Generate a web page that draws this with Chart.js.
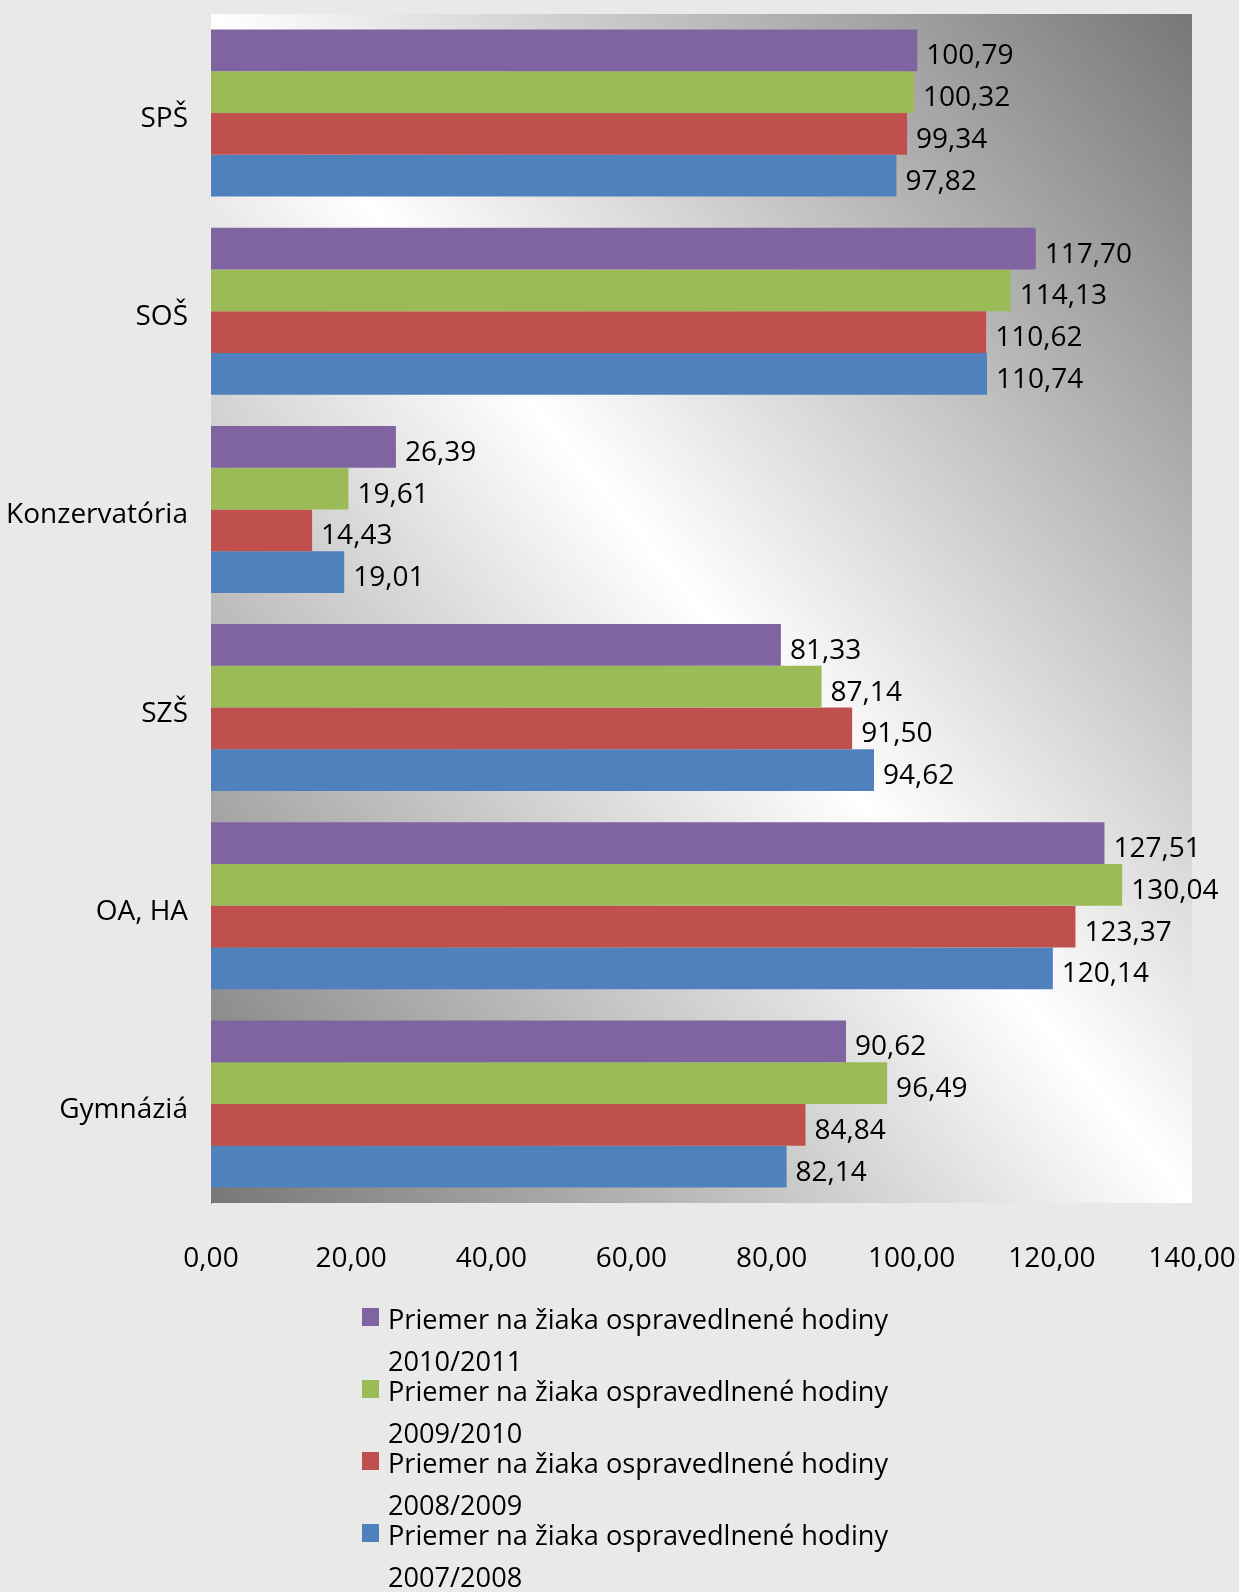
<!DOCTYPE html>
<html>
<head>
<meta charset="utf-8">
<script src="https://cdn.jsdelivr.net/npm/chart.js@4/dist/chart.umd.min.js"></script>
<style>
  html, body { margin: 0; padding: 0; background: #e9e9e7; }
  #wrap { width: 1239px; height: 1592px; position: relative; }
  canvas { display: block; }
</style>
</head>
<body>
<div id="wrap"><canvas id="c" width="1239" height="1592"></canvas></div>
<script>
// ---- data ----
const categories = ['SPŠ', 'SOŠ', 'Konzervatória', 'SZŠ', 'OA, HA', 'Gymnáziá'];
const seriesNames = [
  'Priemer na žiaka ospravedlnené hodiny 2010/2011',
  'Priemer na žiaka ospravedlnené hodiny 2009/2010',
  'Priemer na žiaka ospravedlnené hodiny 2008/2009',
  'Priemer na žiaka ospravedlnené hodiny 2007/2008'
];
const values2010 = [100.79, 117.70, 26.39, 81.33, 127.51, 90.62];
const values2009 = [100.32, 114.13, 19.61, 87.14, 130.04, 96.49];
const values2008 = [99.34, 110.62, 14.43, 91.50, 123.37, 84.84];
const values2007 = [97.82, 110.74, 19.01, 94.62, 120.14, 82.14];
const xTicks = [0, 20, 40, 60, 80, 100, 120, 140];

const colors = ['#8064A2', '#9BBB59', '#C0504D', '#4F81BD'];
const FONT = '"Open Sans", Lato, sans-serif';
const fmt = v => v.toFixed(2).replace('.', ',');

const plotBg = {
  id: 'plotBg',
  beforeDatasetsDraw(chart) {
    const { ctx, chartArea: a } = chart;
    ctx.save();
    ctx.translate(a.left, a.top);
    ctx.scale(a.right - a.left, a.bottom - a.top);
    const g = ctx.createLinearGradient(1, 0, 0, 1);
    g.addColorStop(0, '#777777');
    g.addColorStop(0.5, '#ffffff');
    g.addColorStop(1, '#777777');
    ctx.fillStyle = g;
    ctx.fillRect(0, 0, 1, 1);
    ctx.restore();
  }
};

const valueLabels = {
  id: 'valueLabels',
  afterDatasetsDraw(chart) {
    const ctx = chart.ctx;
    ctx.save();
    ctx.font = '28px ' + FONT;
    ctx.fillStyle = '#000';
    ctx.textAlign = 'left';
    ctx.textBaseline = 'middle';
    chart.data.datasets.forEach((ds, i) => {
      const meta = chart.getDatasetMeta(i);
      meta.data.forEach((bar, j) => {
        ctx.fillText(fmt(ds.data[j]), bar.x + 9, bar.y + 6);
      });
    });
    ctx.restore();
  }
};

const customLegend = {
  id: 'customLegend',
  afterDraw(chart) {
    const ctx = chart.ctx;
    ctx.save();
    ctx.font = '27px ' + FONT;
    ctx.textBaseline = 'alphabetic';
    chart.data.datasets.forEach((ds, i) => {
      const cy = 1317 + i * 72;
      ctx.fillStyle = ds.backgroundColor;
      ctx.fillRect(362, cy - 9, 17, 18);
      ctx.fillStyle = '#000';
      const label = ds.label;
      const cut = label.lastIndexOf(' ');
      const first = label.slice(0, cut);
      const w = ctx.measureText(first).width;
      const sx = 500 / w;
      ctx.save();
      ctx.translate(388, 0);
      ctx.scale(sx, 1);
      ctx.fillText(first, 0, cy + 12);
      ctx.fillText(label.slice(cut + 1), 0, cy + 54);
      ctx.restore();
    });
    ctx.restore();
  }
};

const datasets = [values2010, values2009, values2008, values2007].map((d, i) => ({
  label: seriesNames[i],
  data: d,
  backgroundColor: colors[i],
  borderWidth: 0,
  categoryPercentage: 0.843,
  barPercentage: 1.0
}));

function noPad(axis) {
  axis.paddingTop = 0; axis.paddingBottom = 0;
  axis.paddingLeft = 0; axis.paddingRight = 0;
}

new Chart(document.getElementById('c'), {
  type: 'bar',
  data: { labels: categories, datasets },
  options: {
    indexAxis: 'y',
    responsive: false,
    animation: false,
    devicePixelRatio: 1,
    layout: { padding: { top: 14, right: 47, bottom: 309, left: 0 } },
    plugins: { legend: { display: false }, tooltip: { enabled: false } },
    scales: {
      x: {
        min: 0, max: 140,
        afterBuildTicks(axis) { axis.ticks = xTicks.map(v => ({ value: v })); },
        afterFit(axis) { axis.height = 80; noPad(axis); },
        grid: { display: false, drawTicks: false },
        border: { display: false },
        ticks: {
          padding: 39,
          color: '#000',
          font: { family: FONT, size: 28 },
          maxRotation: 0,
          callback: v => fmt(v)
        }
      },
      y: {
        afterFit(axis) { axis.width = 211; noPad(axis); },
        grid: { display: false, drawTicks: false },
        border: { display: true, color: '#8a8a8a', width: 1 },
        ticks: {
          padding: 23,
          labelOffset: 6,
          color: '#000',
          font: { family: FONT, size: 28 }
        }
      }
    }
  },
  plugins: [plotBg, valueLabels, customLegend]
});
</script>
</body>
</html>
